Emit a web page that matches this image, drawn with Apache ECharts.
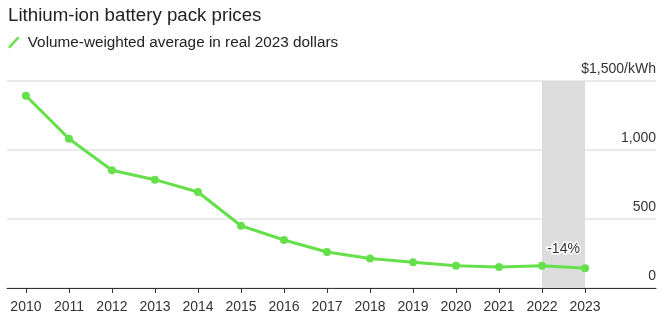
<!DOCTYPE html>
<html><head><meta charset="utf-8">
<script src="https://cdn.jsdelivr.net/npm/echarts@6/dist/echarts.min.js"></script>
<style>html,body{margin:0;padding:0;background:#fff}#c{width:666px;height:325px}</style>
</head><body><div id="c"></div>
<script>
const years = [2010,2011,2012,2013,2014,2015,2016,2017,2018,2019,2020,2021,2022,2023];
const prices = [1393,1082,853,785,696,451,348,261,213,186,162,152,162,143];
const yTicks = [0,500,1000,1500];
const titleText = 'Lithium-ion battery pack prices';
const seriesName = 'Volume-weighted average in real 2023 dollars';
const changeLabel = '-14%';
const FONT = '"Liberation Sans", Arial, sans-serif';
const chart = echarts.init(document.getElementById('c'));
chart.setOption({
  animation:false,
  title:{text:titleText,left:8,top:6,padding:0,textStyle:{fontFamily:FONT,fontSize:18.7,fontWeight:'normal',color:'#222'}},
  legend:{left:8,top:35,padding:0,itemWidth:12,itemHeight:12,itemGap:6,itemStyle:{borderWidth:0},
    icon:'path://M0,11 L10,0 L12,1.5 L2,12.5 Z',
    textStyle:{fontFamily:FONT,fontSize:15.3,color:'#222',padding:[0,0,0,3]},data:[seriesName]},
  grid:{left:7,right:10,top:81,bottom:37},
  xAxis:{type:'value',min:2009.56,max:2024.65,
    splitLine:{show:false},
    axisLine:{show:true,lineStyle:{color:'#333',width:1}},
    axisTick:{show:true,length:5,lineStyle:{color:'#333'},customValues:years},
    axisLabel:{customValues:years,margin:12,fontFamily:FONT,fontSize:14,color:'#333',formatter:v=>String(v)}},
  yAxis:{type:'value',position:'right',min:0,max:1500,interval:500,
    axisLine:{show:false},axisTick:{show:false},
    splitLine:{lineStyle:{color:'#e3e3e3',width:1.5}},
    axisLabel:{inside:true,margin:0,verticalAlign:'bottom',padding:[0,0,5,0],
      fontFamily:FONT,fontSize:14,color:'#333',
      formatter:v=> v===1500 ? '$1,500/kWh' : v.toLocaleString('en-US')}},
  series:[{
    name:seriesName,type:'line',
    data:years.map((y,i)=>[y,prices[i]]),
    lineStyle:{color:'#66e04a',width:3},
    itemStyle:{color:'#66e04a'},
    symbol:'circle',symbolSize:8,
    markArea:{silent:true,itemStyle:{color:'#dcdcdc'},
      label:{show:true,position:['50%','81%'],align:'center',verticalAlign:'middle',
        formatter:changeLabel,fontFamily:FONT,fontSize:14,color:'#333',
        textBorderColor:'#fff',textBorderWidth:3},
      data:[[{xAxis:2022,yAxis:0},{xAxis:2023,yAxis:1500}]]}
  }]
});
</script></body></html>
